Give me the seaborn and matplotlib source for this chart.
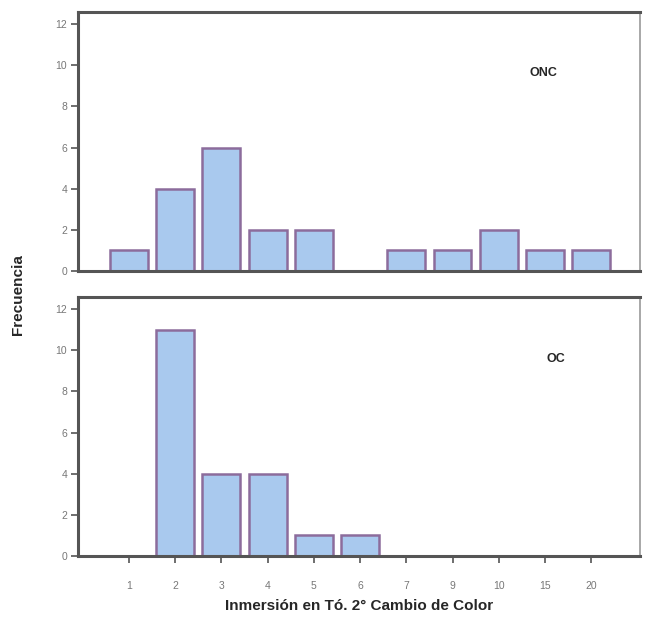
import matplotlib
matplotlib.use("Agg")
import matplotlib.pyplot as plt
import seaborn as sns
import pandas as pd

# categorías del eje x (inmersiones)
categorias = ["1", "2", "3", "4", "5", "6", "7", "9", "10", "15", "20"]
# frecuencias por grupo
frec_onc = [1, 4, 6, 2, 2, 0, 1, 1, 2, 1, 1]
frec_oc = [0, 11, 4, 4, 1, 1, 0, 0, 0, 0, 0]
yticks = [0, 2, 4, 6, 8, 10, 12]

sns.set_theme(style="white")
plt.rcParams['font.family'] = ['Liberation Sans', 'DejaVu Sans']

fig = plt.figure(figsize=(6.46, 6.21), dpi=100)
ax1 = fig.add_axes([0.121, 0.5636, 0.870, 0.4174])
ax2 = fig.add_axes([0.121, 0.1047, 0.870, 0.4173])

df_onc = pd.DataFrame({"cat": categorias, "frec": frec_onc})
df_oc = pd.DataFrame({"cat": categorias, "frec": frec_oc})

for ax, df, nombre, pos in [(ax1, df_onc, "ONC", (0.827, 0.765)), (ax2, df_oc, "OC", (0.85, 0.76))]:
    sns.barplot(data=df, x="cat", y="frec", order=categorias, ax=ax,
                color="#a9c9ee", saturation=1, width=0.82,
                edgecolor="#8c6c9c", linewidth=1.8)
    ax.set_xlim(-1.1, 11.06)
    ax.set_ylim(0, 12.6)
    ax.set_yticks(yticks)
    ax.set_yticklabels([str(v) for v in yticks], fontsize=7.5, color="#777777")
    ax.set_xlabel("")
    ax.set_ylabel("")
    ax.tick_params(axis="y", direction="out", length=5, width=1.2, color="#555555", left=True, pad=3)
    for lado in ["left", "bottom", "top"]:
        ax.spines[lado].set_color("#555555")
        ax.spines[lado].set_linewidth(2.2)
    ax.spines["right"].set_color("#999999")
    ax.spines["right"].set_linewidth(1.2)
    ax.text(pos[0], pos[1], nombre, transform=ax.transAxes, fontsize=9,
            fontweight="bold", ha="center", va="center")

ax1.tick_params(axis="x", bottom=False, labelbottom=False)
ax2.tick_params(axis="x", direction="out", length=5, width=1.2, color="#555555",
                bottom=True, labelsize=7.5, labelcolor="#777777", pad=13)
ax2.set_xlabel("Inmersión en Tó. 2° Cambio de Color", fontsize=11, fontweight="bold", labelpad=6)

fig.text(0.028, 0.525, "Frecuencia", rotation=90, fontsize=11, fontweight="bold",
         ha="center", va="center")

fig.savefig("out.png", dpi=100, facecolor="white")
